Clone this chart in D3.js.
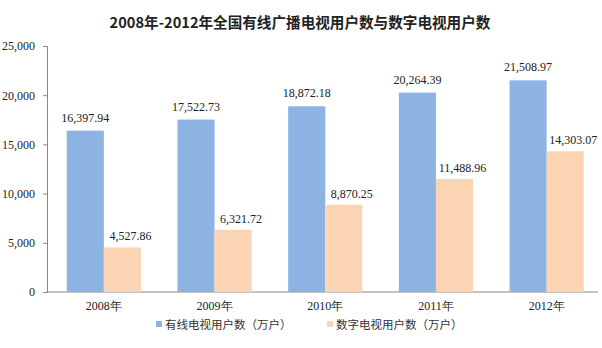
<!DOCTYPE html>
<html><head><meta charset="utf-8">
<script src="https://cdn.jsdelivr.net/npm/d3@7/dist/d3.min.js"></script>
<style>
body{margin:0;background:#fff;}
svg{display:block;}
</style></head>
<body>
<script>
// Chart data
const years = ["2008年", "2009年", "2010年", "2011年", "2012年"];
const cableUsers = [16397.94, 17522.73, 18872.18, 20264.39, 21508.97];
const digitalUsers = [4527.86, 6321.72, 8870.25, 11488.96, 14303.07];
const seriesNames = ["有线电视用户数（万户）", "数字电视用户数（万户）"];
const yTicks = [0, 5000, 10000, 15000, 20000, 25000];
const colors = ["#8db3e2", "#fbd4b4"];

const W = 602, H = 348;
const margin = {left: 47, right: 4, top: 46, bottom: 56};
const serif = "'Liberation Serif','Times New Roman',serif";
const cjk = "'Noto Sans CJK SC',sans-serif";

const svg = d3.select("body").append("svg").attr("width", W).attr("height", H);

const x = d3.scaleBand().domain(years).range([margin.left + 1.5, W]).paddingInner(0.33).paddingOuter(0.165);
const x1 = d3.scaleBand().domain([0, 1]).range([0, x.bandwidth()]);
const y = d3.scaleLinear().domain([0, 25000]).range([H - margin.bottom, margin.top]);

// Title
svg.append("text").attr("x", 300).attr("y", 28).attr("text-anchor", "middle")
  .attr("font-family", cjk).attr("font-weight", "bold").attr("font-size", 14.6).attr("fill", "#222")
  .text("2008年-2012年全国有线广播电视用户数与数字电视用户数");

// Y axis
const fmt = d3.format(",");
const yAxis = svg.append("g").attr("transform", `translate(${margin.left},0)`)
  .call(d3.axisLeft(y).tickValues(yTicks).tickFormat(fmt).tickSize(4).tickPadding(8));
yAxis.select(".domain").attr("stroke", "#888");
yAxis.selectAll(".tick line").attr("stroke", "#888");
yAxis.selectAll("text").attr("font-family", serif).attr("font-size", 12).attr("fill", "#222");

// X axis
const xAxis = svg.append("g").attr("transform", `translate(0,${y(0)})`)
  .call(d3.axisBottom(x).tickSize(0).tickPadding(9));
xAxis.select(".domain").attr("stroke", "#888").attr("d", `M${margin.left},0H${W - margin.right}`);
xAxis.selectAll("text").attr("font-family", serif).attr("font-size", 12).attr("fill", "#222");

// Bars with value labels
const series = [cableUsers, digitalUsers];
series.forEach((vals, si) => {
  const g = svg.append("g");
  g.selectAll("rect").data(vals).join("rect")
    .attr("x", (d, i) => x(years[i]) + x1(si))
    .attr("y", d => y(d))
    .attr("width", x1.bandwidth())
    .attr("height", d => y(0) - y(d))
    .attr("fill", colors[si]);
  g.selectAll("text").data(vals).join("text")
    .attr("x", (d, i) => x(years[i]) + x1(si) + x1.bandwidth() / 2 + (si === 1 ? 8 : 0))
    .attr("y", d => y(d) - (si === 1 ? 7 : 9))
    .attr("text-anchor", "middle")
    .attr("font-family", serif).attr("font-size", 12).attr("fill", "#222")
    .text(d => d3.format(",.2f")(d));
});

// Legend
const legendX = [156, 327];
seriesNames.forEach((name, i) => {
  svg.append("rect").attr("x", legendX[i]).attr("y", 321).attr("width", 6).attr("height", 6).attr("fill", colors[i]);
  svg.append("text").attr("x", legendX[i] + 9).attr("y", 329)
    .attr("font-family", cjk).attr("font-size", 11.5).attr("fill", "#333").text(name);
});
</script>
</body></html>
